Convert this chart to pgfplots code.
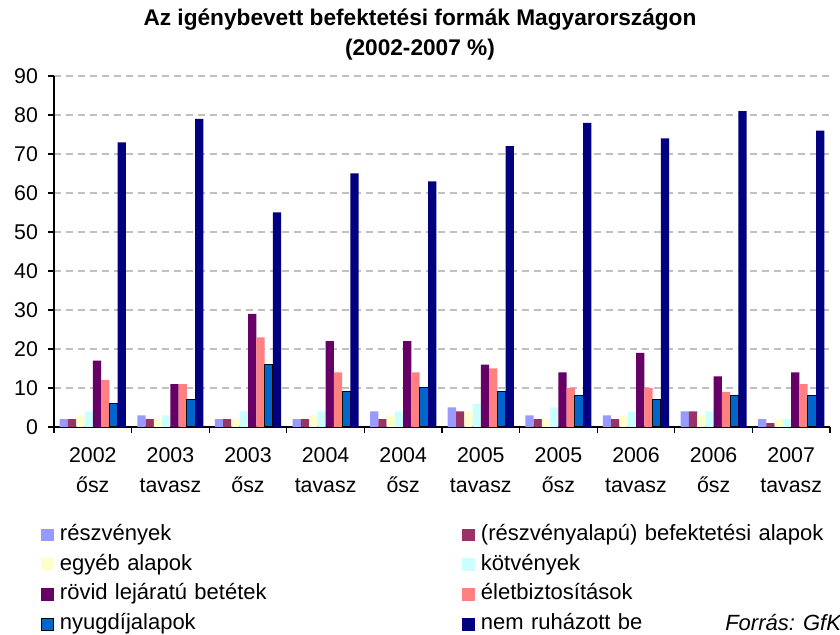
\documentclass[border=0pt]{standalone}
\usepackage{pgfplots}
\pgfplotsset{compat=1.18}
\usepackage{fontspec}
\setmainfont{Liberation Sans}
\definecolor{cA}{HTML}{9999FF}
\definecolor{cB}{HTML}{993366}
\definecolor{cC}{HTML}{FFFFCC}
\definecolor{cD}{HTML}{CCFFFF}
\definecolor{cE}{HTML}{660066}
\definecolor{cF}{HTML}{FF8080}
\definecolor{cG}{HTML}{0066CC}
\definecolor{cH}{HTML}{000080}
\definecolor{gridc}{HTML}{C0C0C0}
\begin{document}
\begin{tikzpicture}
\path[use as bounding box] (0,0) rectangle (630pt,476.25pt);
\clip (0,0) rectangle (630pt,476.25pt);
\begin{axis}[
  at={(40.5pt,156pt)}, anchor=south west,
  scale only axis, width=582pt, height=263.25pt,
  xmin=-0.5, xmax=9.5, ymin=0, ymax=90,
  ybar=0pt, bar width=6.2pt,
  legend image code/.code={\fill[#1] (0pt,-4.8pt) rectangle (9.75pt,4.8pt);},
  axis x line*=bottom, axis y line*=left,
  axis line style={black, line width=0.9pt},
  xtick={-0.5,0.5,1.5,2.5,3.5,4.5,5.5,6.5,7.5,8.5,9.5},
  xticklabels={},
  x tick style={black, line width=0.9pt},
  extra x ticks={0,1,2,3,4,5,6,7,8,9},
  extra x tick labels={{2002\\ősz},{2003\\tavasz},{2003\\ősz},{2004\\tavasz},{2004\\ősz},{2005\\tavasz},{2005\\ősz},{2006\\tavasz},{2006\\ősz},{2007\\tavasz}},
  extra x tick style={major tick length=0pt, tick style={draw=none},
    xticklabel style={font=\fontsize{16}{22.5}\selectfont, align=center, yshift=-12pt}},
  ytick={0,10,...,90},
  y tick style={black, line width=0.9pt},
  tick align=outside,
  major tick length=4.5pt,
  ymajorgrids,
  grid style={gridc, line width=1.1pt, dash pattern=on 5pt off 4pt},
  /pgf/number format/assume math mode=true,
  yticklabel style={font=\fontsize{16}{19}\selectfont, xshift=-4pt},
  legend cell align=left,
  legend columns=2,
  legend style={draw=none, fill=none, at={(-0.01675,-0.2792)}, anchor=north west,
    inner sep=0pt, outer sep=0pt, row sep=7.3pt,
    nodes={inner sep=0pt, text height=11.5pt, text depth=3.5pt, text width=301.5pt, align=left, font=\fontsize{16.5}{19}\selectfont},
    /tikz/every odd column/.append style={column sep=4.5pt}},
]
\addplot[fill=cA, draw=none] coordinates {(0,2) (1,3) (2,2) (3,2) (4,4) (5,5) (6,3) (7,3) (8,4) (9,2)};
\addplot[fill=cB, draw=none] coordinates {(0,2) (1,2) (2,2) (3,2) (4,2) (5,4) (6,2) (7,2) (8,4) (9,1)};
\addplot[fill=cC, draw=none] coordinates {(0,3) (1,2) (2,2) (3,3) (4,3) (5,4) (6,2) (7,3) (8,3) (9,2)};
\addplot[fill=cD, draw=none] coordinates {(0,4) (1,3) (2,4) (3,4) (4,4) (5,6) (6,5) (7,4) (8,4) (9,2)};
\addplot[fill=cE, draw=none] coordinates {(0,17) (1,11) (2,29) (3,22) (4,22) (5,16) (6,14) (7,19) (8,13) (9,14)};
\addplot[fill=cF, draw=none] coordinates {(0,12) (1,11) (2,23) (3,14) (4,14) (5,15) (6,10) (7,10) (8,9) (9,11)};
\addplot[fill=cG, draw=black, line width=0.75pt,
  legend image code/.code={\draw[fill=cG, draw=black, line width=0.75pt] (0.4pt,-4.4pt) rectangle (9.35pt,4.4pt);}] coordinates {(0,6) (1,7) (2,16) (3,9) (4,10) (5,9) (6,8) (7,7) (8,8) (9,8)};
\addplot[fill=cH, draw=none] coordinates {(0,73) (1,79) (2,55) (3,65) (4,63) (5,72) (6,78) (7,74) (8,81) (9,76)};
\legend{részvények,(részvényalapú) befektetési alapok,egyéb alapok,kötvények,rövid lejáratú betétek,életbiztosítások,nyugdíjalapok,nem ruházott be}
\end{axis}
\node[font=\bfseries\fontsize{17}{20}\selectfont] at (315pt,461.25pt) {Az igénybevett befektetési formák Magyarországon};
\node[font=\bfseries\fontsize{17}{20}\selectfont] at (315pt,438.75pt) {(2002-2007 \%)};
\node[anchor=west, inner sep=0pt, font=\itshape\fontsize{16.5}{19}\selectfont] at (543.75pt,9pt) {Forrás: GfK};
\end{tikzpicture}
\end{document}
